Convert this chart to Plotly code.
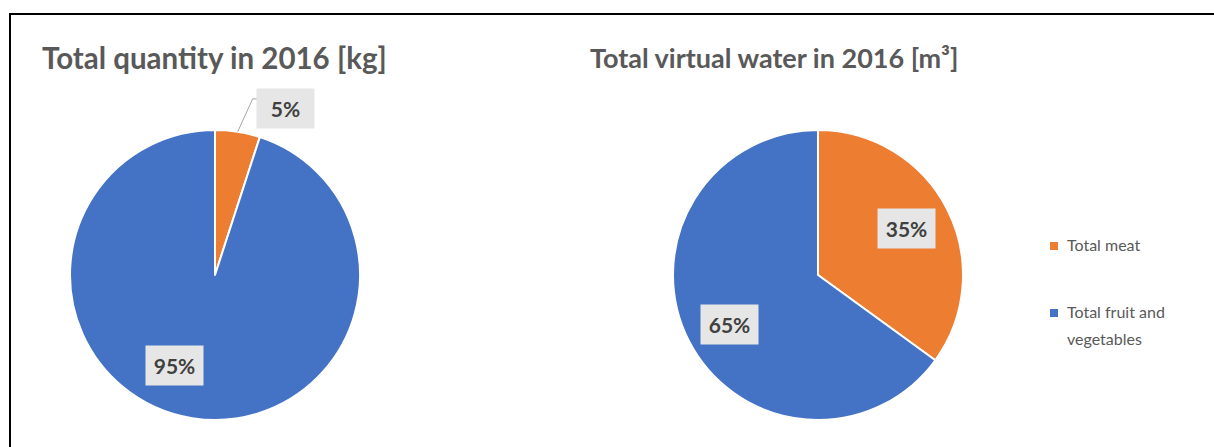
import math
import textwrap
import plotly.graph_objects as go

W, H = 1214, 447

# Data
categories = ["Total meat", "Total fruit and vegetables"]
quantity_share = [5, 95]        # Total quantity in 2016 [kg], %
water_share = [35, 65]          # Total virtual water in 2016 [m³], %
titles = ["Total quantity in 2016 [kg]", "Total virtual water in 2016 [m³]"]
colors = ["#ED7D31", "#4472C4"]

FONT = "Lato"
TITLE_COLOR = "#595959"
LABEL_COLOR = "#404040"


def px_x(x):
    return x / W


def px_y(y):
    return 1 - y / H


# pie geometry in pixels: centre x, centre y, radius
pies = [
    dict(values=quantity_share, cx=215, cy=275, r=145, title=titles[0], title_x=214, title_size=29.5),
    dict(values=water_share, cx=818, cy=275, r=145, title=titles[1], title_x=774, title_size=27),
]

# per-slice label placement: (radius fraction, angle nudge in degrees) or "outside"
label_place = [
    ["outside", (0.68, 15)],
    [(0.69, -1), (0.70, -2)],
]

fig = go.Figure()
annotations = []
shapes = []

for p, places in zip(pies, label_place):
    cx, cy, r = p["cx"], p["cy"], p["r"]
    fig.add_trace(go.Pie(
        labels=categories,
        values=p["values"],
        sort=False,
        direction="clockwise",
        rotation=0,
        textinfo="none",
        hoverinfo="label+percent",
        marker=dict(colors=colors, line=dict(color="white", width=2)),
        domain=dict(x=[px_x(cx - r), px_x(cx + r)], y=[px_y(cy + r), px_y(cy - r)]),
        showlegend=False,
    ))

    total = sum(p["values"])
    start = 0.0
    for v, place in zip(p["values"], places):
        span = 360.0 * v / total
        mid = start + span / 2
        start += span
        text = f"{round(100 * v / total)}%"
        if place == "outside":
            a = math.radians(mid)
            x0, y0 = cx + r * math.sin(a), cy - r * math.cos(a)
            x1, y1 = x0 + 15, y0 - 33
            x2 = x1 + 9
            shapes.append(dict(type="path", xref="paper", yref="paper",
                               path=f"M {px_x(x0)} {px_y(y0)} L {px_x(x1)} {px_y(y1)} L {px_x(x2)} {px_y(y1)}",
                               line=dict(color="#A6A6A6", width=1)))
            lx, ly = x2 + 23.5, y1 + 10
        else:
            frac, nudge = place
            a = math.radians(mid + nudge)
            lx, ly = cx + frac * r * math.sin(a), cy - frac * r * math.cos(a)
        annotations.append(dict(
            x=px_x(lx), y=px_y(ly), xref="paper", yref="paper",
            text=f"<b>{text}</b>", showarrow=False,
            font=dict(family=FONT, size=21, color=LABEL_COLOR),
            bgcolor="#E6E6E6", borderpad=0, width=57, height=39,
            xanchor="center", yanchor="middle",
        ))

    annotations.append(dict(
        x=px_x(p["title_x"]), y=px_y(58), xref="paper", yref="paper",
        text=f"<b>{p['title']}</b>", showarrow=False,
        font=dict(family=FONT, size=p["title_size"], color=TITLE_COLOR),
        xanchor="center", yanchor="middle",
    ))

# legend: coloured squares with wrapped category names
legend_rows = [244, 311]
for cat, col, yc in zip(categories, colors, legend_rows):
    shapes.append(dict(type="rect", xref="paper", yref="paper",
                       x0=px_x(1050), x1=px_x(1058), y0=px_y(yc + 6), y1=px_y(yc - 2),
                       fillcolor=col, line=dict(width=0)))
    for i, line in enumerate(textwrap.wrap(cat, 15)):
        annotations.append(dict(
            x=px_x(1065), y=px_y(yc + i * 27), xref="paper", yref="paper",
            text=line, showarrow=False, xanchor="left", yanchor="middle",
            font=dict(family=FONT, size=16, color=TITLE_COLOR),
        ))

# chart frame (top and left edges visible)
shapes.append(dict(type="rect", xref="paper", yref="paper",
                   x0=px_x(10), x1=px_x(W + 20), y0=px_y(H + 20), y1=px_y(14),
                   line=dict(color="black", width=2), fillcolor="rgba(0,0,0,0)"))

fig.update_layout(
    width=W, height=H,
    margin=dict(l=0, r=0, t=0, b=0),
    paper_bgcolor="white", plot_bgcolor="white",
    annotations=annotations, shapes=shapes,
    showlegend=False,
)

fig.write_html("out.html")
